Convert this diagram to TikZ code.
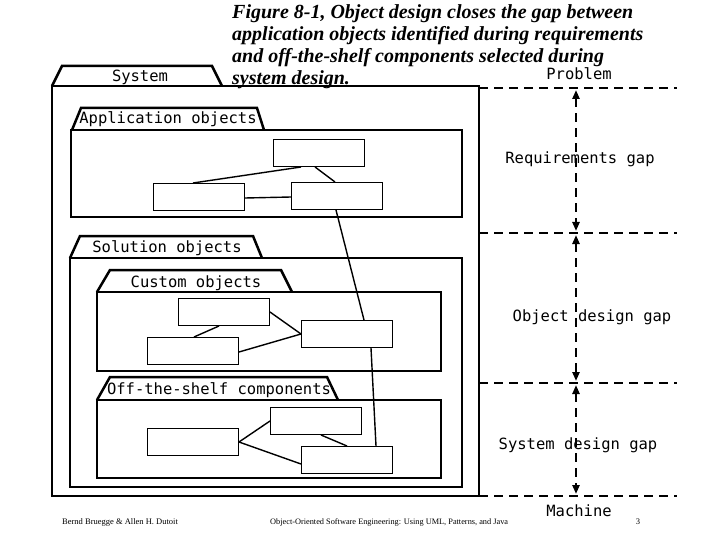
\documentclass[tikz,border=0pt]{standalone}
\usepackage{fontspec}
\setmainfont{Liberation Serif}
\newfontfamily\mono{DejaVu Sans Mono}
\usetikzlibrary{arrows.meta}
\begin{document}
\begin{tikzpicture}[x=1pt,y=-1pt,
  pkg/.style={line width=2.5pt,line join=miter},
  tab/.style={font=\mono\fontsize{15.5}{15.5}\selectfont,anchor=base,inner sep=0},
  obj/.style={draw,line width=1pt,minimum width=91pt,minimum height=27pt,anchor=north west,inner sep=0},
  con/.style={line width=1.4pt},
  lvl/.style={dash pattern=on 9pt off 6pt,line width=1.5pt},
  gap/.style={dash pattern=on 9pt off 6pt,line width=2.5pt,{Triangle[length=9pt,width=7pt]}-{Triangle[length=9pt,width=7pt]}},
  lab/.style={font=\mono\fontsize{15.5}{15.5}\selectfont,anchor=base,inner sep=0}]
\useasboundingbox (0,0) rectangle (720,540);
% title
\node[anchor=north west,align=left,inner sep=0,font=\bfseries\itshape\fontsize{20}{22}\selectfont] (title) at (232,4)
 {Figure 8-1, Object design closes the gap between\\application objects identified during requirements\\and off-the-shelf components selected during\\system design.};
% System package
\draw[pkg] (52,86) -- (62,66) -- (212,66) -- (222,86);
\draw[pkg] (52,86) rectangle (479,496);
\node[tab] (tsys) at (140,82) {System};
% Application objects
\draw[pkg] (72,130) -- (81,108) -- (257,108) -- (264,130);
\draw[pkg] (71,130) rectangle (462,217);
\node[tab] (tapp) at (168,124) {Application objects};
% Solution objects
\draw[pkg] (70,258) -- (80,236) -- (253,236) -- (262,258);
\draw[pkg] (70,258) rectangle (462,487);
\node[tab] (tsol) at (167,252) {Solution objects};
% Custom objects
\draw[pkg] (97,292) -- (110,270) -- (281,270) -- (292,292);
\draw[pkg] (97,292) rectangle (441,371);
\node[tab] (tcus) at (196,287) {Custom objects};
% Off-the-shelf
\draw[pkg] (97,400) -- (110,377) -- (327,377) -- (338,400);
\draw[pkg] (97,400) rectangle (441,478);
\node[tab] (tots) at (219,394) {Off-the-shelf components};
% objects
\node[obj] (a1) at (273,139) {};
\node[obj] (a2) at (153,183) {};
\node[obj] (a3) at (291,182) {};
\node[obj] (c1) at (178,298) {};
\node[obj] (c2) at (147,337) {};
\node[obj] (c3) at (301,320) {};
\node[obj] (o1) at (147,428) {};
\node[obj] (o2) at (270,407) {};
\node[obj] (o3) at (301,446) {};
% connectors
\draw[con] ([xshift=-18pt]a1.south) -- ([xshift=-6pt]a2.north);
\draw[con] ([xshift=-4pt]a1.south) -- ([xshift=-2pt]a3.north);
\draw[con] ([yshift=-1pt]a2.east) -- ([yshift=-1pt]a3.west);
\draw[con] ([xshift=-1pt]a3.south) -- ([xshift=17pt]c3.north);
\draw[con] ([xshift=-5pt]c1.south) -- ([xshift=1pt]c2.north);
\draw[con] (c1.east) -- (c3.west);
\draw[con] ([yshift=-1pt]c2.east) -- (c3.west);
\draw[con] ([xshift=24pt]c3.south) -- ([xshift=29pt]o3.north);
\draw[con] (o1.east) -- (o2.west);
\draw[con] (o1.east) -- ([yshift=-4pt]o3.west);
\draw[con] ([xshift=5pt]o2.south) -- (o3.north);
% levels
\coordinate (l1) at (479,88);
\coordinate (l2) at (479,233);
\coordinate (l3) at (479,383);
\coordinate (l4) at (479,496);
\foreach \l in {l1,l2,l3,l4} \draw[lvl] (\l) -- ++(198,0);
\coordinate (g1a) at (576,90);
\coordinate (g1b) at (576,231);
\coordinate (g2a) at (576,235);
\coordinate (g2b) at (576,381);
\coordinate (g3a) at (576,385);
\coordinate (g3b) at (576,494);
\draw[gap] (g1a) -- (g1b);
\draw[gap] (g2a) -- (g2b);
\draw[gap] (g3a) -- (g3b);
\node[lab] (lp) at (579,80) {Problem};
\node[lab] (lr) at (580,164) {Requirements gap};
\node[lab] (lo) at (592,321) {Object design gap};
\node[lab] (ls) at (578,449) {System design gap};
\node[lab] (lm) at (579,516) {Machine};
% footer
\node[anchor=base west,inner sep=0,font=\fontsize{8.5}{8.5}\selectfont] (f1) at (62,524) {Bernd Bruegge \& Allen H. Dutoit};
\node[anchor=base west,inner sep=0,font=\fontsize{8.3}{8.3}\selectfont] (f2) at (270,524) {Object-Oriented Software Engineering: Using UML, Patterns, and Java};
\node[anchor=base,inner sep=0,font=\fontsize{8.5}{8.5}\selectfont] (f3) at (638,524) {3};
\end{tikzpicture}
\end{document}
